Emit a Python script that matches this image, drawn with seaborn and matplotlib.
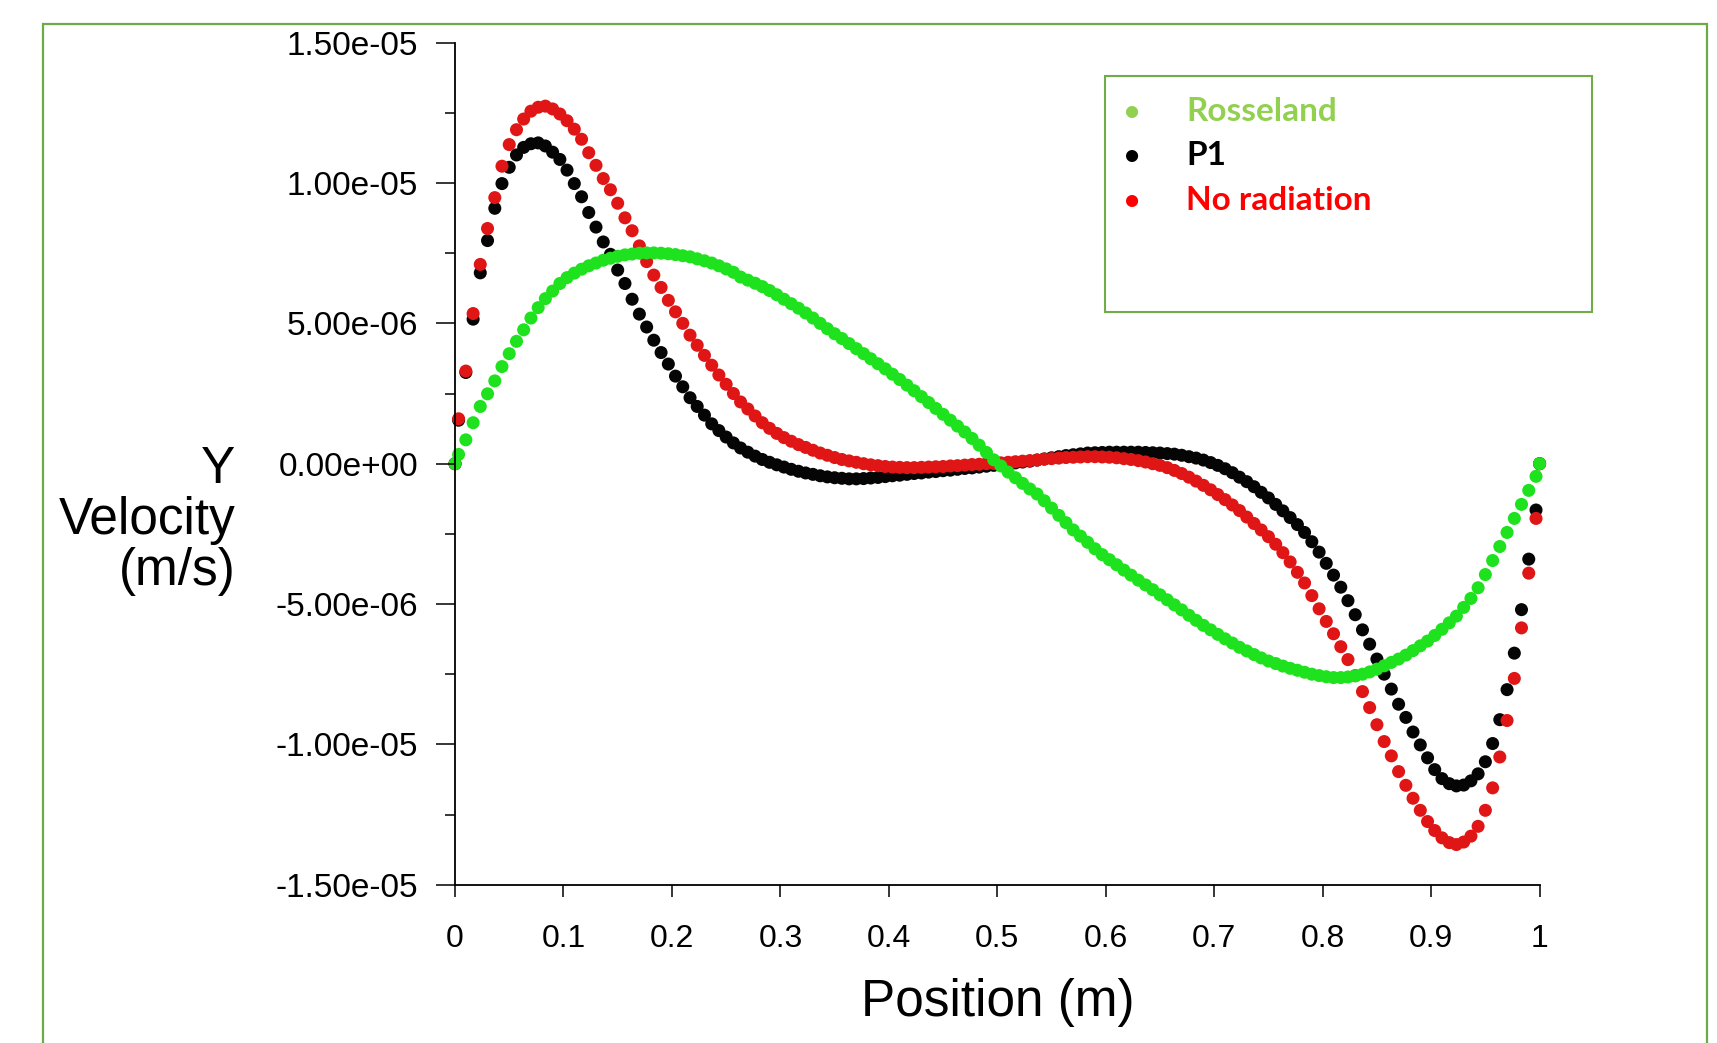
import pandas as pd
import matplotlib
matplotlib.use("Agg")
import matplotlib.pyplot as plt
from matplotlib.patches import Rectangle
from matplotlib.ticker import FuncFormatter, MultipleLocator
import seaborn as sns

# Mesh positions (m), wall nodes at 0 and 1
positions = [
    0.0, 0.0033, 0.01, 0.0167, 0.0233, 0.03, 0.0367, 0.0433, 0.05, 0.0567, 0.0633,
    0.07, 0.0767, 0.0833, 0.09, 0.0967, 0.1033, 0.11, 0.1167, 0.1233, 0.13, 0.1367,
    0.1433, 0.15, 0.1567, 0.1633, 0.17, 0.1767, 0.1833, 0.19, 0.1967, 0.2033, 0.21,
    0.2167, 0.2233, 0.23, 0.2367, 0.2433, 0.25, 0.2567, 0.2633, 0.27, 0.2767, 0.2833,
    0.29, 0.2967, 0.3033, 0.31, 0.3167, 0.3233, 0.33, 0.3367, 0.3433, 0.35, 0.3567,
    0.3633, 0.37, 0.3767, 0.3833, 0.39, 0.3967, 0.4033, 0.41, 0.4167, 0.4233, 0.43,
    0.4367, 0.4433, 0.45, 0.4567, 0.4633, 0.47, 0.4767, 0.4833, 0.49, 0.4967, 0.5033,
    0.51, 0.5167, 0.5233, 0.53, 0.5367, 0.5433, 0.55, 0.5567, 0.5633, 0.57, 0.5767,
    0.5833, 0.59, 0.5967, 0.6033, 0.61, 0.6167, 0.6233, 0.63, 0.6367, 0.6433, 0.65,
    0.6567, 0.6633, 0.67, 0.6767, 0.6833, 0.69, 0.6967, 0.7033, 0.71, 0.7167, 0.7233,
    0.73, 0.7367, 0.7433, 0.75, 0.7567, 0.7633, 0.77, 0.7767, 0.7833, 0.79, 0.7967,
    0.8033, 0.81, 0.8167, 0.8233, 0.83, 0.8367, 0.8433, 0.85, 0.8567, 0.8633, 0.87,
    0.8767, 0.8833, 0.89, 0.8967, 0.9033, 0.91, 0.9167, 0.9233, 0.93, 0.9367, 0.9433,
    0.95, 0.9567, 0.9633, 0.97, 0.9767, 0.9833, 0.99, 0.9967, 1.0,
]

# Y velocity in units of 1e-6 m/s
rosseland = [
    0.0, 0.33, 0.85, 1.46, 2.04, 2.49, 2.95, 3.46, 3.92, 4.36, 4.77,
    5.19, 5.56, 5.88, 6.15, 6.42, 6.63, 6.79, 6.93, 7.05, 7.15,
    7.25, 7.32, 7.39, 7.44, 7.47, 7.5, 7.51, 7.51, 7.5, 7.48,
    7.45, 7.41, 7.37, 7.3, 7.23, 7.15, 7.05, 6.94, 6.82, 6.65,
    6.54, 6.43, 6.31, 6.17, 6.02, 5.86, 5.7, 5.54, 5.37, 5.19,
    5.0, 4.81, 4.63, 4.46, 4.28, 4.1, 3.92, 3.74, 3.56, 3.38,
    3.19, 3.0, 2.8, 2.6, 2.39, 2.18, 1.97, 1.76, 1.55, 1.34,
    1.13, 0.9, 0.66, 0.4, 0.14, -0.08, -0.3, -0.5, -0.7, -0.9,
    -1.08, -1.32, -1.58, -1.84, -2.1, -2.36, -2.58, -2.8, -3.03, -3.24,
    -3.42, -3.6, -3.79, -3.97, -4.15, -4.32, -4.49, -4.67, -4.85, -5.03,
    -5.21, -5.4, -5.58, -5.76, -5.92, -6.08, -6.24, -6.39, -6.54, -6.67,
    -6.8, -6.92, -7.03, -7.12, -7.21, -7.29, -7.36, -7.43, -7.5, -7.55,
    -7.59, -7.62, -7.62, -7.6, -7.56, -7.5, -7.42, -7.32, -7.2, -7.08,
    -6.96, -6.82, -6.66, -6.49, -6.32, -6.12, -5.9, -5.67, -5.43, -5.12,
    -4.8, -4.42, -3.95, -3.45, -2.95, -2.45, -1.95, -1.45, -0.95, -0.45, 0.0,
]

p1 = [
    0.0, 1.55, 3.25, 5.15, 6.8, 7.95, 9.1, 9.98, 10.56, 11.0, 11.27,
    11.4, 11.43, 11.32, 11.1, 10.84, 10.46, 9.98, 9.51, 8.95, 8.43,
    7.9, 7.46, 6.9, 6.42, 5.86, 5.33, 4.87, 4.4, 3.96, 3.55,
    3.12, 2.74, 2.35, 2.04, 1.73, 1.42, 1.18, 0.95, 0.74, 0.56,
    0.41, 0.27, 0.15, 0.05, -0.04, -0.12, -0.2, -0.27, -0.33, -0.38,
    -0.43, -0.47, -0.5, -0.52, -0.54, -0.54, -0.53, -0.51, -0.49, -0.46,
    -0.43, -0.41, -0.38, -0.35, -0.33, -0.3, -0.28, -0.25, -0.23, -0.2,
    -0.17, -0.15, -0.12, -0.09, -0.06, -0.03, 0.0, 0.03, 0.06, 0.09,
    0.13, 0.17, 0.21, 0.25, 0.29, 0.32, 0.35, 0.38, 0.39, 0.4,
    0.41, 0.41, 0.41, 0.41, 0.41, 0.4, 0.39, 0.38, 0.36, 0.34,
    0.3, 0.25, 0.2, 0.13, 0.04, -0.06, -0.18, -0.32, -0.48, -0.64,
    -0.82, -1.02, -1.22, -1.45, -1.68, -1.92, -2.17, -2.45, -2.78, -3.15,
    -3.55, -3.97, -4.4, -4.88, -5.38, -5.92, -6.43, -6.96, -7.5, -8.03,
    -8.57, -9.04, -9.56, -10.02, -10.48, -10.9, -11.22, -11.4, -11.48, -11.45,
    -11.3, -11.05, -10.62, -9.97, -9.12, -8.05, -6.75, -5.2, -3.4, -1.65, 0.0,
]

no_radiation = [
    0.0, 1.6, 3.3, 5.35, 7.1, 8.38, 9.48, 10.6, 11.37, 11.9, 12.28,
    12.56, 12.7, 12.74, 12.64, 12.46, 12.22, 11.92, 11.56, 11.08, 10.63,
    10.16, 9.76, 9.28, 8.76, 8.3, 7.76, 7.2, 6.72, 6.28, 5.82,
    5.41, 5.0, 4.58, 4.22, 3.86, 3.51, 3.16, 2.83, 2.5, 2.2,
    1.95, 1.7, 1.46, 1.26, 1.08, 0.93, 0.8, 0.68, 0.58, 0.48,
    0.38, 0.3, 0.22, 0.15, 0.1, 0.05, 0.0, -0.04, -0.07, -0.1,
    -0.12, -0.13, -0.14, -0.14, -0.13, -0.12, -0.11, -0.1, -0.08, -0.07,
    -0.05, -0.03, -0.02, 0.0, 0.01, 0.03, 0.05, 0.07, 0.09, 0.11,
    0.13, 0.16, 0.18, 0.2, 0.22, 0.23, 0.24, 0.25, 0.25, 0.24,
    0.23, 0.21, 0.18, 0.15, 0.11, 0.06, 0.0, -0.06, -0.14, -0.24,
    -0.35, -0.48, -0.62, -0.77, -0.93, -1.1, -1.28, -1.47, -1.67, -1.9,
    -2.13, -2.36, -2.6, -2.87, -3.17, -3.5, -3.87, -4.25, -4.7, -5.17,
    -5.62, -6.06, -6.52, -6.98, -7.55, -8.12, -8.69, -9.3, -9.9, -10.41,
    -10.97, -11.46, -11.92, -12.35, -12.75, -13.07, -13.33, -13.5, -13.57, -13.48,
    -13.27, -12.92, -12.35, -11.55, -10.45, -9.15, -7.65, -5.85, -3.9, -1.95, 0.0,
]

series_names = ["Rosseland", "P1", "No radiation"]
marker_colors = {"Rosseland": "#1de21d", "P1": "#050505", "No radiation": "#e01515"}
legend_colors = ["#92d050", "#000000", "#ff0000"]

x_ticks = [0, 0.1, 0.2, 0.3, 0.4, 0.5, 0.6, 0.7, 0.8, 0.9, 1]
x_tick_labels = ["0", "0.1", "0.2", "0.3", "0.4", "0.5", "0.6", "0.7", "0.8", "0.9", "1"]
y_ticks = [-1.5e-5, -1e-5, -5e-6, 0, 5e-6, 1e-5, 1.5e-5]

# long form, drawn black -> red -> green (green on top)
frames = []
for name, vals in [("P1", p1), ("No radiation", no_radiation), ("Rosseland", rosseland)]:
    frames.append(pd.DataFrame({"position": positions,
                                "velocity": [v * 1e-6 for v in vals],
                                "series": name}))
df = pd.concat(frames, ignore_index=True)

plt.rcParams["font.family"] = ["Liberation Sans", "DejaVu Sans"]

W, H = 1717, 1043
fig = plt.figure(figsize=(W / 100, H / 100), dpi=100)
ax = fig.add_axes([455 / W, 1 - 884.7 / H, 1084.6 / W, 842 / H])

sns.scatterplot(data=df, x="position", y="velocity", hue="series", palette=marker_colors,
                s=88, linewidth=0, legend=False, ax=ax, clip_on=False)

ax.set_xlim(0, 1)
ax.set_ylim(-1.5e-5, 1.5e-5)
for side in ["top", "right"]:
    ax.spines[side].set_visible(False)
for side in ["left", "bottom"]:
    ax.spines[side].set_linewidth(1.3)

ax.set_xticks(x_ticks, x_tick_labels)
ax.set_yticks(y_ticks)
ax.yaxis.set_major_formatter(FuncFormatter(lambda v, _: f"{v:.2e}"))
ax.yaxis.set_minor_locator(MultipleLocator(2.5e-6))
ax.tick_params(axis="y", which="major", direction="out", length=13.5, width=1.1, pad=13, labelsize=24)
ax.tick_params(axis="y", which="minor", direction="out", length=7, width=1.1)
ax.tick_params(axis="x", which="major", direction="out", length=8.6, width=1.1, pad=20, labelsize=23)

ax.set_xlabel("Position (m)", fontsize=37)
ax.xaxis.set_label_coords(0.5, -0.14)
ax.xaxis.label.set_va("center")
ax.set_ylabel("Y\nVelocity\n(m/s)", fontsize=37, rotation=0, ha="right", va="center",
              multialignment="right", linespacing=1.05)
ax.yaxis.set_label_coords(-0.2024, 0.433)

# green frame around the whole slide
fig.add_artist(Rectangle((43 / W, -0.1), (1707 - 43) / W, 1 - 24 / H + 0.1,
                         transform=fig.transFigure, fill=False, edgecolor="#6aab45", linewidth=1.6))

# legend text box
fig.add_artist(Rectangle((1105 / W, 1 - 312 / H), (1592 - 1105) / W, (312 - 76) / H,
                         transform=fig.transFigure, fill=False, edgecolor="#70ad47", linewidth=1.5))
for i, (name, col) in enumerate(zip(series_names, legend_colors)):
    yb = 1 - (120.7 + 44.6 * i) / H
    fig.text(1132 / W, yb, "\u2022", color=col, ha="center", va="baseline",
             fontsize=20, family=["Lato", "DejaVu Sans"], weight="bold")
    fig.text(1186 / W, yb, name, color=col, ha="left", va="baseline",
             fontsize=24, family=["Lato", "DejaVu Sans"], weight="bold")

fig.savefig("out.png", dpi=100)
